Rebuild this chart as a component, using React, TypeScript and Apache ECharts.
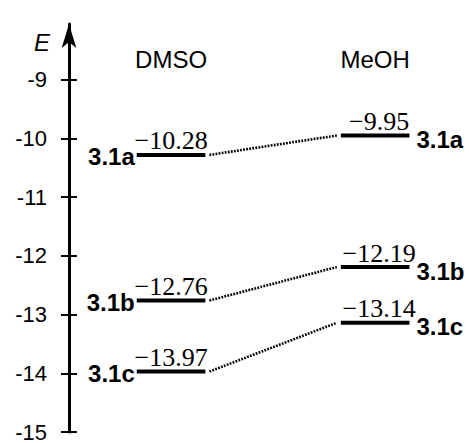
import React, { useEffect, useRef } from "react";
import * as echarts from "echarts";

const solvents = ["DMSO", "MeOH"];
const compounds = ["3.1a", "3.1b", "3.1c"];
const dmsoEnergies = [-10.28, -12.76, -13.97];
const meohEnergies = [-9.95, -12.19, -13.14];
const yTicks = [-9, -10, -11, -12, -13, -14, -15];
const axisName = "E";

const SOLVENT_X = [1, 2];
const HALF = 0.168;
const GAP = 0.02;

const SANS = '"Liberation Sans", Arial, sans-serif';
const SERIF = '"Liberation Serif", "Times New Roman", serif';

const fmt = (v: number) => (v < 0 ? "\u2212" : "") + Math.abs(v).toFixed(2);

export default function App() {
  const ref = useRef<HTMLDivElement>(null);
  useEffect(() => {
    const chart = echarts.init(ref.current!, null, { renderer: "svg" });
    const data = compounds.map((_, i) => [dmsoEnergies[i], meohEnergies[i], i]);

    const renderItem = (params: any, api: any) => {
      const dmso = api.value(0);
      const meoh = api.value(1);
      const i = api.value(2);
      const pL = api.coord([SOLVENT_X[0], dmso]);
      const pR = api.coord([SOLVENT_X[1], meoh]);
      const hw = api.size([HALF, 0])[0];
      const gap = api.size([GAP, 0])[0];
      const levelStyle = { stroke: "#000", lineWidth: 4 };
      return {
        type: "group",
        children: [
          { type: "line", shape: { x1: pL[0] - hw, y1: pL[1], x2: pL[0] + hw, y2: pL[1] }, style: levelStyle },
          { type: "line", shape: { x1: pR[0] - hw, y1: pR[1], x2: pR[0] + hw, y2: pR[1] }, style: levelStyle },
          {
            type: "line",
            shape: { x1: pL[0] + hw + gap, y1: pL[1], x2: pR[0] - hw - gap, y2: pR[1] },
            style: { stroke: "#000", lineWidth: 2.6, lineDash: [1.8, 1.3] },
          },
          {
            type: "text", x: pL[0], y: pL[1] - 1,
            style: { text: fmt(dmso), align: "center", verticalAlign: "bottom", font: `26px ${SERIF}`, fill: "#000" },
          },
          {
            type: "text", x: pR[0] + 4, y: pR[1] - 1,
            style: { text: fmt(meoh), align: "center", verticalAlign: "bottom", font: `26px ${SERIF}`, fill: "#000" },
          },
          {
            type: "text", x: pL[0] - hw - 2, y: pL[1] + 2,
            style: { text: compounds[i], align: "right", verticalAlign: "middle", font: `bold 24px ${SANS}`, fill: "#000" },
          },
          {
            type: "text", x: pR[0] + hw + 7, y: pR[1] + 4,
            style: { text: compounds[i], align: "left", verticalAlign: "middle", font: `bold 24px ${SANS}`, fill: "#000" },
          },
        ],
      };
    };

    chart.setOption({
      animation: false,
      grid: { left: 69, right: 2, top: 24, bottom: 7 },
      xAxis: {
        type: "value",
        min: 0.5,
        max: 2.45,
        position: "top",
        axisLine: { show: false },
        axisTick: { show: false },
        splitLine: { show: false },
        axisLabel: {
          inside: true,
          margin: 23,
          customValues: SOLVENT_X,
          formatter: (v: number) => solvents[SOLVENT_X.indexOf(v)] ?? "",
          fontFamily: SANS,
          fontSize: 24,
          color: "#000",
        },
      },
      yAxis: [
        {
          type: "value",
          min: -15,
          max: -8.05,
          position: "left",
          axisLine: {
            show: true,
            lineStyle: { color: "#000", width: 3 },
            symbol: ["none", "arrow"],
            symbolSize: [11, 24],
          },
          axisTick: { show: true, customValues: yTicks, length: 8, lineStyle: { color: "#000", width: 2 } },
          axisLabel: {
            customValues: yTicks,
            margin: 22,
            fontFamily: SANS,
            fontSize: 22,
            color: "#000",
            formatter: (v: number) => String(v),
          },
          splitLine: { show: false },
        },
        {
          type: "value",
          min: -15,
          max: -8.05,
          position: "left",
          axisLine: { show: false },
          axisTick: { show: true, inside: true, customValues: yTicks, length: 8, lineStyle: { color: "#000", width: 2 } },
          axisLabel: { show: false },
          splitLine: { show: false },
        },
      ],
      graphic: [
        {
          type: "text",
          x: 42,
          y: 42,
          style: { text: axisName, align: "center", verticalAlign: "middle", font: `italic 24px ${SANS}`, fill: "#000" },
        },
      ],
      series: [
        {
          type: "custom",
          renderItem,
          data,
          xAxisIndex: 0,
          yAxisIndex: 0,
          encode: { x: 2, y: 0 },
          silent: true,
        },
      ],
    });
    return () => chart.dispose();
  }, []);

  return (
    <div
      ref={ref}
      style={{ position: "fixed", left: 0, top: 0, width: 469, height: 443, background: "#fff" }}
    />
  );
}
